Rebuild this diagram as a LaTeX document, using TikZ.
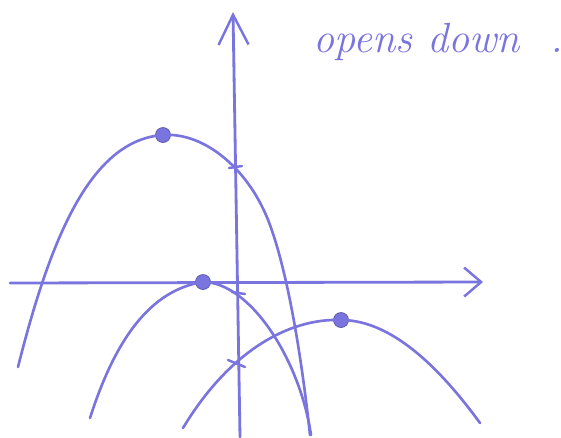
\documentclass[tikz,border=0pt]{standalone}
\usetikzlibrary{arrows.meta}
\definecolor{pen}{RGB}{122,116,222}
\tikzset{
  axisline/.style={draw=pen, line width=1.6pt, line cap=round},
  curve/.style={draw=pen, line width=1.5pt, line cap=round, line join=round},
  vdot/.style={circle, fill=pen, draw=pen!75!black, inner sep=0pt, minimum size=0.3cm},
  tickmark/.style={draw=pen, line width=1.4pt, line cap=round},
  note/.style={text=pen, font=\itshape\fontsize{24}{24}\selectfont, inner sep=0pt},
}
\begin{document}
\begin{tikzpicture}
  \begin{scope}[x=0.02cm, y=-0.02cm]
    \useasboundingbox (0,0) rectangle (561,437);
    %% axes
    \coordinate (xl) at (10,283);
    \coordinate (xr) at (483,282);
    \coordinate (yb) at (240,437);
    \coordinate (yt) at (233,12);
    \draw[axisline, -{Straight Barb[length=0.34cm, width=0.58cm, line width=1.4pt]}] (xl) -- (xr);
    \draw[axisline, -{Straight Barb[length=0.6cm, width=0.6cm, line width=1.4pt]}] (yb) -- (yt);
    %% vertices
    \node[vdot] (v1) at (163,135) {};
    \node[vdot] (v2) at (203,282) {};
    \node[vdot] (v3) at (341,320) {};
    %% top parabola
    \coordinate (p1l) at (18,367);
    \coordinate (p1m) at (270,225);
    \coordinate (p1r) at (310,435);
    \draw[curve] (p1l) .. controls (50,240) and (90,140) .. (v1.center)
      .. controls (205,132) and (250,170) .. (p1m)
      .. controls (290,280) and (303,370) .. (p1r);
    %% middle parabola
    \coordinate (p2l) at (90,418);
    \coordinate (p2r) at (311,435);
    \draw[curve] (p2l) .. controls (115,340) and (150,290) .. (v2.center)
      .. controls (250,282) and (300,360) .. (p2r);
    %% bottom parabola
    \coordinate (p3l) at (183,428);
    \coordinate (p3r) at (480,423);
    \draw[curve] (p3l) .. controls (230,350) and (290,318) .. (v3.center)
      .. controls (395,320) and (445,375) .. (p3r);
    %% y-intercept ticks
    \coordinate (t1a) at (229,168); \coordinate (t1b) at (242,166);
    \coordinate (t2a) at (232,292); \coordinate (t2b) at (245,294);
    \coordinate (t3a) at (228,360); \coordinate (t3b) at (245,367);
    \draw[tickmark] (t1a) -- (t1b);
    \draw[tickmark] (t2a) -- (t2b);
    \draw[tickmark] (t3a) -- (t3b);
    %% label
    \node[note, anchor=base west] (opens) at (313,52) {opens down\hspace{0.62cm}.};
  \end{scope}
\end{tikzpicture}
\end{document}
